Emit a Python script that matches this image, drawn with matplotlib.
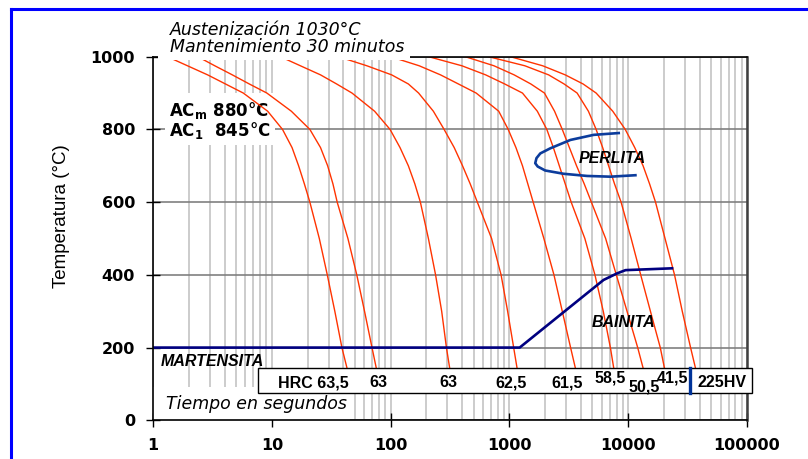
import matplotlib
matplotlib.use('Agg')
import matplotlib.pyplot as plt
from matplotlib.lines import Line2D
from matplotlib.patches import Rectangle
from matplotlib.ticker import LogLocator, FuncFormatter, NullFormatter

# temperatures (°C) where each cooling curve was read
temps = [1000, 975, 950, 925, 900, 850, 800, 750, 700, 650, 600, 500, 400, 300, 200, 144]

# cooling curves: time (s) at each temperature above
t_635 = [1.32, 1.95, 2.88, 4.07, 5.75, 9.23, 12.3, 14.8, 16.8, 18.8, 20.9, 25.1, 29.3, 33.9, 38.9, 42.9]
t_63a = [2.38, 3.31, 4.65, 6.46, 9.08, 14.6, 20.9, 25.7, 29.5, 32.7, 35.5, 43.7, 51.9, 60.3, 69.7, 75.7]
t_63b = [11.8, 17.4, 25.7, 35.1, 47.3, 73.3, 98.9, 120, 141, 160, 178, 208, 239, 269, 295, 314]
t_625 = [36.4, 63.1, 102, 141, 172, 229, 282, 343, 403, 468, 537, 708, 851, 966, 1086, 1159]
t_615 = [100, 174, 263, 372, 525, 813, 977, 1135, 1288, 1429, 1585, 1950, 2371, 2786, 3273, 3589]
t_585 = [209, 398, 631, 912, 1288, 1718, 2065, 2344, 2630, 2951, 3311, 4315, 5248, 6166, 7079, 7551]
t_505 = [425, 741, 1096, 1514, 1972, 2399, 2786, 3199, 3673, 4266, 4898, 6457, 7943, 9772, 12020, 13340]
t_415 = [668, 1349, 2138, 2884, 3715, 4624, 5370, 6095, 6839, 7674, 8710, 10590, 12740, 15380, 18620, 20180]
t_225 = [1019, 1905, 2951, 4169, 5370, 7413, 9441, 11350, 13340, 15140, 16980, 20420, 24550, 28510, 33500, 36810]

# bainite / martensite start line
bain_t = [1, 1220, 6200, 8050, 9500, 23400]
bain_T = [200, 200, 386, 404, 413, 418]

# pearlite nose
perl_t = [8320, 5120, 3260, 2210, 1820, 1690, 1650, 1730, 2000, 2860, 4510, 7080, 11500]
perl_T = [790, 785, 771, 748, 734, 721, 707, 698, 687, 678, 672, 670, 674]

# hardness labels under the curves
hrc_labels = ['HRC 63,5', '63', '63', '62,5', '61,5', '58,5', '50,5', '41,5', '225HV']
hrc_t = [22.5, 78.6, 306, 1038, 3055, 7015, 13550, 23800, 61800]
hrc_T = [103, 103, 103, 103, 103, 116, 92, 116, 103]

red = '#ff3300'
navy = '#000080'

fig = plt.figure(figsize=(8.08, 4.59), dpi=100)
ax = fig.add_axes([0.1894, 0.0843, 0.7351, 0.7922])

ax.set_xscale('log')
ax.set_xlim(1, 100000)
ax.set_ylim(0, 1000)
ax.xaxis.set_major_locator(LogLocator(base=10))
ax.xaxis.set_minor_locator(LogLocator(base=10, subs=range(2, 10)))
ax.xaxis.set_major_formatter(FuncFormatter(lambda v, p: '%d' % v))
ax.xaxis.set_minor_formatter(NullFormatter())
ax.set_yticks([0, 200, 400, 600, 800, 1000])

ax.set_axisbelow(True)
ax.grid(axis='x', which='both', color='#cccccc', lw=1.4)
ax.grid(axis='y', which='major', color='#808080', lw=1.2)

ax.tick_params(axis='both', which='major', direction='inout', length=10, width=1, pad=8)
ax.tick_params(axis='x', which='minor', length=0)
for lab in ax.get_xticklabels() + ax.get_yticklabels():
    lab.set_fontweight('bold')
    lab.set_fontsize(11.5)
    lab.set_family('DejaVu Sans')

for s in ['left', 'bottom', 'top']:
    ax.spines[s].set_color('black')
    ax.spines[s].set_linewidth(1.2)
ax.spines['right'].set_color('#404040')
ax.spines['right'].set_linewidth(1.8)

ax.set_ylabel('Temperatura (°C)', family='Liberation Sans', fontsize=13.5)
ax.yaxis.set_label_coords(-0.14, 0.562)

for tt in [t_635, t_63a, t_63b, t_625, t_615, t_585, t_505, t_415, t_225]:
    ax.plot(tt, temps, color=red, lw=1.0, zorder=2)

ax.plot(bain_t, bain_T, color=navy, lw=1.9, zorder=2.2)
ax.plot(perl_t, perl_T, color='#0c3c9c', lw=1.9, zorder=2.2)

# white patches hiding grid lines behind the notes
ax.add_patch(Rectangle((0.0202, 0.757), 0.185, 0.143, transform=ax.transAxes,
                       facecolor='white', edgecolor='none', zorder=1))
ax.add_patch(Rectangle((0.0, 0.0), 0.332, 0.092, transform=ax.transAxes,
                       facecolor='white', edgecolor='none', zorder=1))
ax.add_patch(Rectangle((0.008, 0.991), 0.425, 0.12, transform=ax.transAxes,
                       facecolor='white', edgecolor='none', zorder=3, clip_on=False))

ax.text(0.0286, 1.073, 'Austenización 1030°C', transform=ax.transAxes, style='italic',
        fontsize=12.5, va='center', ha='left', zorder=4)
ax.text(0.0286, 1.026, 'Mantenimiento 30 minutos', transform=ax.transAxes, style='italic',
        fontsize=12.5, va='center', ha='left', zorder=4)

ax.text(0.027, 0.853, r'AC$_\mathbf{m}$ 880°C', transform=ax.transAxes, fontweight='bold',
        fontsize=12, va='center', ha='left', zorder=1.5)
ax.text(0.027, 0.797, r'AC$_\mathbf{1}$  845°C', transform=ax.transAxes, fontweight='bold',
        fontsize=12, va='center', ha='left', zorder=1.5)

ax.text(0.022, 0.046, 'Tiempo en segundos', transform=ax.transAxes, style='italic',
        fontsize=12.5, va='center', ha='left', zorder=4)

lab_font = dict(family='Liberation Sans', fontweight='bold', style='italic', fontsize=11.5)
ax.text(7360, 719, 'PERLITA', ha='center', va='center', zorder=4, **lab_font)
ax.text(9120, 270, 'BAINITA', ha='center', va='center', zorder=4, **lab_font)
ax.text(1.15, 161, 'MARTENSITA', ha='left', va='center', zorder=4, **lab_font)

# hardness box
ax.add_patch(Rectangle((0.1768, 0.075), 0.8316, 0.0688, transform=ax.transAxes,
                       facecolor='white', edgecolor='black', lw=1.0, zorder=3, clip_on=False))
ax.plot([33400, 33400], [76, 143], color='#003399', lw=2.4, zorder=4, clip_on=False)
for name, x, y in zip(hrc_labels, hrc_t, hrc_T):
    ax.text(x, y, name, ha='center', va='center', family='Liberation Sans',
            fontweight='bold', fontsize=11.5, zorder=5, clip_on=False)

# blue frame around the figure
fig.add_artist(Line2D([10.5 / 808, 10.5 / 808], [0, 1 - 9 / 459], color='#0000ff', lw=2.2))
fig.add_artist(Line2D([10.5 / 808, 1], [1 - 9 / 459, 1 - 9 / 459], color='#0000ff', lw=2.2))

fig.savefig('out.png', dpi=100, facecolor='white')
